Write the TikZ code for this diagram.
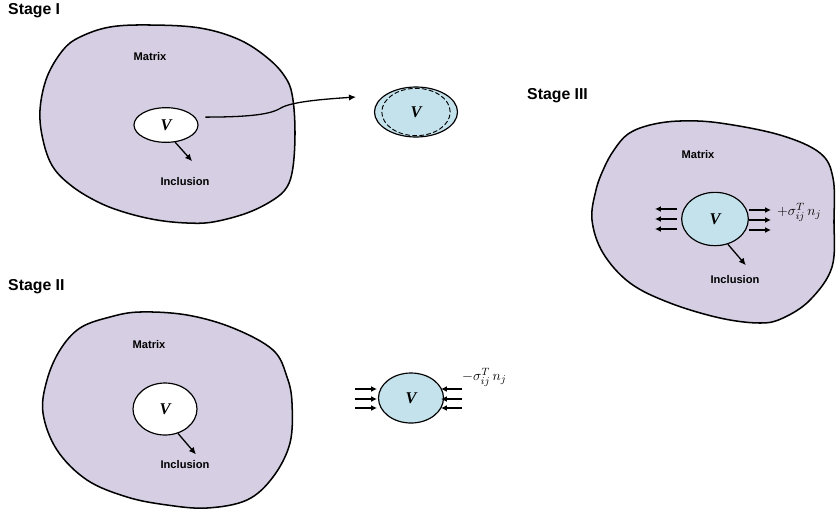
\documentclass[tikz,border=0pt]{standalone}
\usepackage{fontspec}
\setsansfont{Liberation Sans}
\newfontfamily\vfont{Liberation Serif}
\usetikzlibrary{shapes.geometric, arrows.meta, positioning, calc}
\definecolor{lilac}{HTML}{D6CFE3}
\definecolor{paleblue}{HTML}{C4E2EC}
\tikzset{
  blob/.style={draw=black, line width=1.3pt, fill=lilac, line join=round},
  incl/.style={ellipse, draw=black, line width=1pt, fill=white, inner sep=0pt,
    font=\vfont\bfseries\itshape\fontsize{14}{16}\selectfont},
  incl/blue/.style={incl, fill=paleblue},
  stagelbl/.style={font=\sffamily\bfseries\fontsize{13.5}{15}\selectfont, anchor=west, inner sep=0pt},
  lbl/.style={font=\sffamily\bfseries\fontsize{9.5}{11}\selectfont, inner sep=1pt},
  tlbl/.style={font=\fontsize{12.5}{14}\selectfont, anchor=west, inner sep=0pt},
  ar/.style={-{Latex[length=6pt,width=5.5pt]}, line width=1.1pt},
  sar/.style={-{Latex[length=5pt,width=5pt]}, line width=1.3pt},
}

\begin{document}
\begin{tikzpicture}[x=0.03cm, y=-0.03cm]
\useasboundingbox (0,0) rectangle (836,518);

% Stage I
\node[stagelbl] (stI) at (8,11) {Stage I};
\draw[blob] plot[smooth cycle, tension=0.6] coordinates {(80,37) (110,27) (150,25) (200,28)
  (240,40) (270,60) (287,80) (293,100) (295,133) (293,167) (287,187) (273,200) (247,213)
  (213,222) (187,223) (157,220) (127,213) (100,203) (73,187) (53,167) (43,140) (40,110)
  (47,77) (63,50)};
\node[lbl] (matI) at (150,57) {Matrix};
\node[incl, minimum width=1.92cm, minimum height=1.04cm] (incI) at (166,125) {V};
\node[lbl] (labI) at (185,182) {Inclusion};
\draw[ar] (incI.-62) -- ++(17,19);
\node[incl/blue, minimum width=2.49cm, minimum height=1.5cm] (freeI) at (416,112) {V};
\node[ellipse, draw=black, dash pattern=on 4pt off 2pt, line width=0.8pt,
  minimum width=2.05cm, minimum height=1.42cm] (freeIin) at (freeI) {};
\coordinate (tipI) at (356,97);
\draw[ar, shorten <=0.3cm] (incI.15) .. controls (245,117) and (268,115) .. (279,109)
  .. controls (288,103) and (310,100) .. (tipI);

% Stage II
\node[stagelbl] (stII) at (8,287) {Stage II};
\draw[blob] plot[smooth cycle, tension=0.6] coordinates {(80,328) (110,317) (140,312) (187,315)
  (233,328) (273,350) (287,377) (292,403) (290,443) (273,477) (247,500) (207,508) (167,505)
  (127,497) (87,480) (57,450) (43,413) (47,380) (60,350)};
\node[lbl] (matII) at (149,345) {Matrix};
\node[incl, minimum width=1.92cm, minimum height=1.56cm] (incII) at (165,409) {V};
\node[lbl] (labII) at (185,465) {Inclusion};
\draw[ar] (incII.-62) -- ++(18,21);
\node[incl/blue, minimum width=1.95cm, minimum height=1.5cm] (freeII) at (411,398) {V};
\foreach \dy in {-9,1,10} {
  \draw[sar] ($(freeII.center)+(-56,\dy)$) -- ++(22,0);
  \draw[sar] ($(freeII.center)+(51,\dy)$) -- ++(-21,0);
}
\node[tlbl] (sigII) at (462,377) {$-\sigma_{ij}^{T}\,n_{j}$};

% Stage III
\node[stagelbl] (stIII) at (527,96) {Stage III};
\draw[blob] plot[smooth cycle, tension=0.6] coordinates {(628,134) (650,125) (680,121) (720,123)
  (780,135) (820,153) (833,178) (834,220) (832,267) (810,300) (783,318) (760,323) (720,318)
  (670,303) (630,283) (603,253) (592,220) (596,190) (604,168) (614,150)};
\node[lbl] (matIII) at (698,155) {Matrix};
\node[incl/blue, minimum width=2.0cm, minimum height=1.6cm] (incIII) at (715,219) {V};
\node[lbl] (labIII) at (735,280) {Inclusion};
\draw[ar] (incIII.-63) -- ++(18,21);
\foreach \dy in {-10,0,10} {
  \draw[sar] ($(incIII.center)+(-38,\dy)$) -- ++(-22,0);
  \draw[sar] ($(incIII.center)+(34,\dy+1)$) -- ++(22,0);
}
\node[tlbl] (sigIII) at (777,212) {$+\sigma_{ij}^{T}\,n_{j}$};
\end{tikzpicture}
\end{document}
